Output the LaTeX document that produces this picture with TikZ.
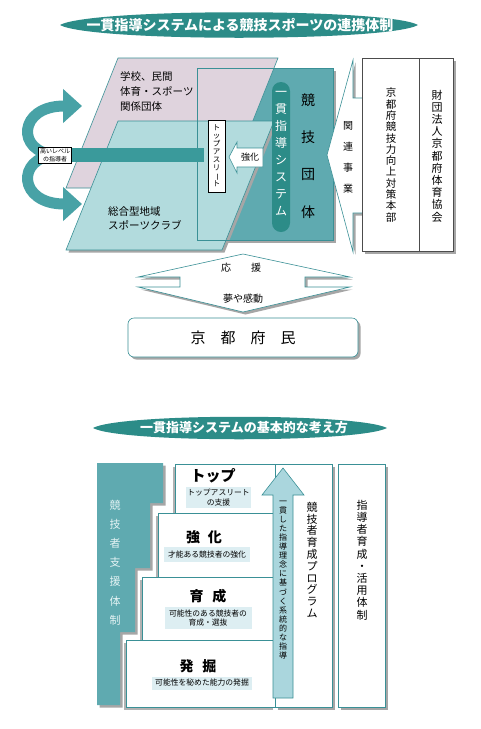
\documentclass[tikz,border=0pt]{standalone}
\usepackage{fontspec}
\setmainfont{Noto Sans CJK JP}
\usepackage{graphicx}
\usetikzlibrary{shadows,arrows.meta}
\definecolor{tealdark}{HTML}{2C8C88}
\definecolor{tealmid}{HTML}{5FAAB0}
\definecolor{teallight}{HTML}{B2DBDD}
\definecolor{pinkplane}{HTML}{DFD3DD}
\definecolor{tealline}{HTML}{3A9096}
\definecolor{arrowfill}{HTML}{AAD6DD}
\definecolor{subfill}{HTML}{DDEEF2}
\definecolor{curlfill}{HTML}{48A2A6}
\definecolor{barfill}{HTML}{3A9A9B}
\definecolor{paletext}{HTML}{E4F3F4}
\newcommand\fsz[2]{\fontsize{#1}{#2}\selectfont}
\newcommand\tbar{\rotatebox[origin=c]{-90}{ー}}
\begin{document}
\begin{tikzpicture}[x=1pt, y=-1pt,
  shadowed/.style={drop shadow={shadow xshift=2.5pt, shadow yshift=-2.5pt, fill=black!35, opacity=1}},
  leftshadow/.style={drop shadow={shadow xshift=-2pt, shadow yshift=-2.5pt, fill=black!30, opacity=1}},
  banner/.style={text=white, font=\fsz{14}{16}\bfseries},
  tate/.style={align=center, inner sep=0pt},
  plane/.style={draw=tealline, line width=0.6pt},
  stepbox/.style={fill=white, draw=tealline, line width=0.6pt},
  sublabel/.style={fill=subfill, font=\fsz{7.8}{9.5}, align=center, inner sep=1pt},
  steptitle/.style={font=\fsz{14}{16}\bfseries},
  curl/.style={curlfill, line width=11pt, -{Triangle[width=33pt,length=19pt]}}]
  \fill[white] (0,0) rectangle (480,729);
  \useasboundingbox (0,0) rectangle (480,729);

  \fill[tealdark] (60,25) .. controls (90,8) and (388,8) .. (418,25) .. controls (388,42) and (90,42) .. (60,25);
  \node[banner] (title1) at (240,25) {一貫指導システムによる競技スポーツの連携体制};

  \fill[tealmid, shadowed] (197,68) rectangle (333,240);
  \filldraw[plane, fill=pinkplane] (118,58) -- (278,58) -- (226,188) -- (66,188) -- cycle;
  \filldraw[plane, fill=teallight, shadowed] (118,121) -- (274,121) -- (222,250) -- (66,250) -- cycle;
  \draw[tealline, line width=0.6pt] (197,68) rectangle (333,240);

  \node[anchor=north west, align=left, font=\fsz{10.5}{15}, inner sep=0pt] (schools) at (120,71.5) {学校、民間\\体育・スポーツ\\関係団体};
  \node[anchor=north west, align=left, font=\fsz{10.5}{14}, inner sep=0pt] (club) at (108,206) {総合型地域\\スポーツクラブ};

  \coordinate (lab) at (55,155);
  \draw[curl] (lab) .. controls (16,152) and (18,106) .. (82,106);
  \draw[curl] (lab) .. controls (16,158) and (18,204) .. (82,204);
  \fill[barfill] (55,148) rectangle (204,162);
  \node[draw, fill=white, font=\fsz{6}{7.5}, align=center, inner sep=1.5pt, line width=0.5pt] (coach) at (lab) {高いレベル\\の指導者};

  \node[draw, fill=white, tate, font=\fsz{7.5}{8}, minimum width=17pt, minimum height=72pt, line width=0.6pt] (topath) at (216.5,156) {ト\\ッ\\プ\\ア\\ス\\リ\\\tbar\\ト};
  \filldraw[fill=white, draw=tealline, line width=0.6pt] (229,157) -- (237,142) -- (237,148) -- (263,148) -- (263,167) -- (237,167) -- (237,173) -- cycle;
  \node[font=\fsz{9}{10}] (kyoka) at (250,157.5) {強化};

  \fill[tealdark, rounded corners=9pt] (272,82) rectangle (290,232);
  \node[tate, text=white, font=\fsz{12}{17.1}] (pill) at (281,153.5) {一\\貫\\指\\導\\シ\\ス\\テ\\ム};
  \node[tate, font=\fsz{14}{37.3}] (kyogi) at (308,156) {競\\技\\団\\体};

  \filldraw[fill=white, draw=tealline, line width=0.6pt, shadowed] (353,60) -- (353,98) -- (367,98) -- (367,213) -- (353,213) -- (353,252) -- (327,155) -- cycle;
  \node[tate, font=\fsz{10}{21}] (kanren) at (348,157) {関\\連\\事\\業};
  \filldraw[fill=white, draw=black!70, line width=0.6pt, shadowed] (362,58) rectangle (453,251);
  \draw[black!70, line width=0.6pt] (419,58) -- (419,251);
  \node[tate, font=\fsz{10.5}{11.3}] (honbu) at (391,155) {京\\都\\府\\競\\技\\力\\向\\上\\対\\策\\本\\部};
  \node[tate, font=\fsz{11}{12.2}] (kyokai) at (437,156) {財\\団\\法\\人\\京\\都\\府\\体\\育\\協\\会};

  \filldraw[fill=white, draw=tealline, line width=0.6pt, shadowed] (138,277) -- (180,277) -- (180,287) -- (138,287) -- (243,312) -- (350,287) -- (305,287) -- (305,277) -- (350,277) -- (243,254) -- cycle;
  \node[font=\fsz{10}{12}] (oen) at (241,268) {応\hspace{20pt}援};
  \node[font=\fsz{10}{12}] (yume) at (243,299) {夢や感動};
  \node[draw=tealline, fill=white, rounded corners=6pt, line width=0.6pt, shadowed, minimum width=230pt, minimum height=39pt, font=\fsz{15}{17}] (fumin) at (243,337.5) {京\hspace{15pt}都\hspace{15pt}府\hspace{15pt}民};

  \fill[tealdark] (93,428) .. controls (120,413) and (358,413) .. (387,428) .. controls (358,443) and (120,443) .. (93,428);
  \node[banner, font=\fsz{13}{15}\bfseries] (title2) at (244,428) {一貫指導システムの基本的な考え方};

  \fill[tealmid, shadowed] (97,463) -- (163,463) -- (163,503) -- (150,503) -- (150,568) -- (135,568) -- (135,632) -- (120,632) -- (120,705) -- (97,705) -- cycle;
  \node[tate, text=paletext, font=\fsz{11}{19.2}] (shien) at (115,562.5) {競\\技\\者\\支\\援\\体\\制};

  \filldraw[fill=white, draw=tealline, line width=0.6pt, shadowed] (275,464) rectangle (332,707);
  \filldraw[stepbox, leftshadow] (175,464) rectangle (275,513);
  \filldraw[stepbox, leftshadow] (158,513) rectangle (275,577);
  \filldraw[stepbox, leftshadow] (142,577) rectangle (275,640);
  \filldraw[stepbox, leftshadow] (126,640) rectangle (275,707);
  \filldraw[fill=arrowfill, draw=tealline, line width=0.6pt] (273,698) -- (273,495) -- (262,495) -- (283,468) -- (304,495) -- (293,495) -- (293,698) -- cycle;
  \node[tate, font=\fsz{8}{9.06}] (rinen) at (283,580) {一\\貫\\し\\た\\指\\導\\理\\念\\に\\基\\づ\\く\\系\\統\\的\\な\\指\\導};
  \node[tate, font=\fsz{11}{11.8}] (program) at (312,560) {競\\技\\者\\育\\成\\プ\\ロ\\グ\\ラ\\ム};
  \filldraw[fill=white, draw=tealline, line width=0.6pt, shadowed] (338,464) rectangle (385,707);
  \node[tate, font=\fsz{11}{12.2}] (shido) at (362,560) {指\\導\\者\\育\\成\\・\\活\\用\\体\\制};

  \node[font=\fsz{15}{17}\bfseries] (top) at (213,476) {トップ};
  \node[sublabel, minimum width=63pt, minimum height=21pt] (topsub) at (218.5,497.5) {トップアスリート\\の支援};
  \node[steptitle] (kyokatitle) at (204,537) {強\hspace{8pt}化};
  \node[sublabel, minimum width=86pt, minimum height=15pt] (kyokasub) at (207,554.5) {才能ある競技者の強化};
  \node[steptitle] (ikusei) at (208,596) {育\hspace{9pt}成};
  \node[sublabel, minimum width=87pt, minimum height=22pt] (ikuseisub) at (208,618) {可能性のある競技者の\\育成・選抜};
  \node[steptitle] (hakkutsu) at (198,666) {発\hspace{9pt}掘};
  \node[sublabel, minimum width=100pt, minimum height=13pt] (hakkutsusub) at (202,683) {可能性を秘めた能力の発掘};
\end{tikzpicture}
\end{document}
